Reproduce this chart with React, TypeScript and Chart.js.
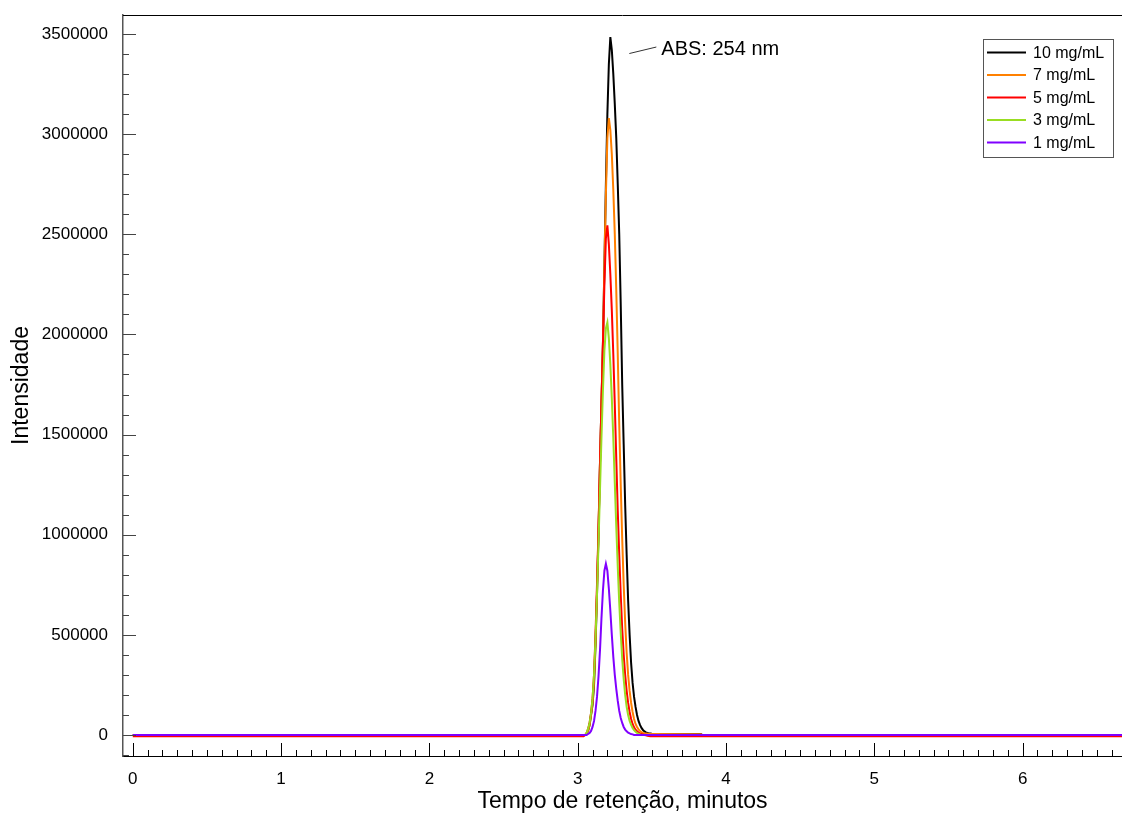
import React, { useEffect, useRef } from "react";
import { Chart, registerables } from "chart.js";

Chart.register(...registerables);

// Retention time (minutes)
const retentionTimes = [
  0, 3.04, 3.05, 3.06, 3.07, 3.08, 3.09, 3.1, 3.11, 3.12,
  3.13, 3.14, 3.15, 3.16, 3.17, 3.18, 3.19, 3.2, 3.21, 3.22,
  3.23, 3.24, 3.25, 3.26, 3.27, 3.28, 3.29, 3.3, 3.31, 3.32,
  3.33, 3.34, 3.35, 3.36, 3.37, 3.38, 3.39, 3.4, 3.41, 3.42,
  3.43, 3.44, 3.45, 3.46, 3.47, 3.48, 3.49, 3.5, 3.83, 3.84, 6.7,
];

// Intensities, in thousands
const intensity10 = [
  0, 0, 0, 5, 20, 50, 100, 150, 250, 450,
  700, 1000, 1350, 1650, 1950, 2350, 2750, 3100, 3350, 3485,
  3420, 3300, 3150, 2980, 2750, 2500, 2150, 1750, 1450, 1150,
  900, 670, 500, 360, 260, 190, 140, 100, 70, 50,
  35, 25, 18, 13, 10, 8, 7, 6, 5, 0, 0,
];
const intensity7 = [
  0, 0, 0, 5, 20, 50, 100, 160, 270, 470,
  720, 1020, 1350, 1650, 1950, 2350, 2700, 2980, 3080, 3020,
  2900, 2720, 2500, 2220, 1900, 1550, 1250, 980, 750, 560,
  410, 300, 220, 160, 115, 80, 55, 40, 28, 20,
  14, 10, 8, 7, 6, 5, 5, 5, 4, 0, 0,
];
const intensity5 = [
  -6, -6, 0, 10, 30, 60, 110, 180, 300, 500,
  750, 1020, 1350, 1650, 1950, 2250, 2480, 2545, 2450, 2300,
  2120, 1900, 1650, 1380, 1120, 900, 700, 530, 400, 300,
  220, 160, 115, 80, 55, 38, 26, 18, 12, 8,
  5, 2, 0, -2, -4, -5, -6, -6, -6, -6, -6,
];
const intensity3 = [
  0, 0, 0, 10, 30, 60, 110, 180, 300, 480,
  700, 950, 1220, 1480, 1720, 1920, 2030, 2060, 1980, 1850,
  1680, 1480, 1260, 1040, 840, 660, 510, 380, 280, 200,
  140, 100, 70, 50, 35, 24, 16, 10, 6, 3,
  0, 0, 0, 0, 0, 0, 0, 0, 0, 0, 0,
];
const intensity1 = [
  0, 0, 0, 0, 5, 10, 20, 40, 70, 120,
  190, 290, 420, 580, 720, 820, 855, 820, 730, 620,
  500, 390, 300, 230, 170, 120, 85, 60, 40, 27,
  18, 12, 8, 5, 3, 0, 0, 0, 0, 0,
  0, 0, 0, 0, 0, 0, 0, 0, 0, 0, 0,
];

const seriesLabels = ["10 mg/mL", "7 mg/mL", "5 mg/mL", "3 mg/mL", "1 mg/mL"];
const seriesValues = [intensity10, intensity7, intensity5, intensity3, intensity1];
const seriesColors = ["#000000", "#ff8000", "#ff0000", "#99dd22", "#8000ff"];

const xTickValues = [0, 1, 2, 3, 4, 5, 6];
const yTickValues = [0, 500000, 1000000, 1500000, 2000000, 2500000, 3000000, 3500000];

const annotationText = "ABS: 254 nm";
const xTitle = "Tempo de retenção, minutos";
const yTitle = "Intensidade";

const FONT = '"Liberation Sans", Arial, sans-serif';

const decorPlugin = {
  id: "decor",
  afterDraw(chart: any) {
    const { ctx, chartArea, scales } = chart;
    const xs = scales.x;
    const ys = scales.y;
    const { left, right, top, bottom } = chartArea;
    ctx.save();

    // top border
    ctx.strokeStyle = "#000";
    ctx.lineWidth = 1;
    ctx.beginPath();
    ctx.moveTo(left, top + 0.5);
    ctx.lineTo(right, top + 0.5);
    ctx.stroke();

    // y ticks (major every 500000, minor every 100000)
    ctx.strokeStyle = "#444";
    ctx.lineWidth = 1;
    for (let i = -5; i <= 40; i++) {
      const v = i * 100000;
      const y = Math.round(ys.getPixelForValue(v)) + 0.5;
      if (y < top || y > bottom) continue;
      const len = i % 5 === 0 ? 13 : 6;
      ctx.beginPath();
      ctx.moveTo(left, y);
      ctx.lineTo(left + len, y);
      ctx.stroke();
    }

    // x ticks (major every 1, minor every 0.1)
    ctx.strokeStyle = "#000";
    for (let i = -5; i <= 80; i++) {
      const v = i / 10;
      const x = Math.round(xs.getPixelForValue(v)) + 0.5;
      if (x < left || x > right) continue;
      const len = i % 10 === 0 ? 13 : 6;
      ctx.beginPath();
      ctx.moveTo(x, bottom);
      ctx.lineTo(x, bottom - len);
      ctx.stroke();
    }

    // legend box
    const boxW = 130;
    const boxH = 118;
    const boxL = right - 9 - boxW;
    const boxT = top + 24;
    ctx.fillStyle = "#fff";
    ctx.fillRect(boxL, boxT, boxW, boxH);
    ctx.strokeStyle = "#555";
    ctx.lineWidth = 1;
    ctx.strokeRect(boxL + 0.5, boxT + 0.5, boxW, boxH);
    ctx.font = `16px ${FONT}`;
    ctx.textBaseline = "middle";
    ctx.textAlign = "left";
    chart.data.datasets.forEach((ds: any, i: number) => {
      const y = boxT + 13.5 + i * 22.5;
      ctx.strokeStyle = ds.borderColor;
      ctx.lineWidth = 2;
      ctx.beginPath();
      ctx.moveTo(boxL + 4, y);
      ctx.lineTo(boxL + 43, y);
      ctx.stroke();
      ctx.fillStyle = "#000";
      ctx.fillText(ds.label, boxL + 50, y + 1);
    });

    // annotation near the main peak
    let maxI = 0;
    intensity10.forEach((v, i) => {
      if (v > intensity10[maxI]) maxI = i;
    });
    const px = xs.getPixelForValue(retentionTimes[maxI]);
    const py = ys.getPixelForValue(intensity10[maxI] * 1000);
    ctx.strokeStyle = "#333";
    ctx.lineWidth = 1;
    ctx.beginPath();
    ctx.moveTo(px + 19, py + 16.5);
    ctx.lineTo(px + 46, py + 10);
    ctx.stroke();
    ctx.fillStyle = "#000";
    ctx.font = `20px ${FONT}`;
    ctx.textBaseline = "alphabetic";
    ctx.fillText(annotationText, px + 51, py + 17.5);

    ctx.restore();
  },
};

export default function App() {
  const canvasRef = useRef<HTMLCanvasElement | null>(null);

  useEffect(() => {
    if (!canvasRef.current) return;
    const datasets = seriesValues.map((vals, si) => ({
      label: seriesLabels[si],
      data: retentionTimes.map((t, i) => ({ x: t, y: vals[i] * 1000 })),
      borderColor: seriesColors[si],
      backgroundColor: seriesColors[si],
      borderWidth: 2,
      pointRadius: 0,
      tension: 0,
      fill: false,
      order: seriesValues.length - 1 - si,
    }));

    const chart = new Chart(canvasRef.current, {
      type: "line",
      data: { datasets },
      plugins: [decorPlugin],
      options: {
        responsive: false,
        maintainAspectRatio: false,
        animation: false,
        devicePixelRatio: 1,
        parsing: false as any,
        normalized: true,
        layout: { padding: { top: 15, right: 0, bottom: 0, left: 0 } },
        plugins: {
          legend: { display: false },
          tooltip: { enabled: false },
        },
        scales: {
          x: {
            type: "linear",
            min: -0.066,
            max: 6.67,
            afterFit: (s: any) => {
              s.height = 60;
              s.paddingLeft = 0;
              s.paddingRight = 0;
            },
            afterBuildTicks: (s: any) => {
              s.ticks = xTickValues.map((v) => ({ value: v }));
            },
            grid: { display: false, drawTicks: false },
            border: { display: true, color: "#000", width: 1 },
            ticks: {
              padding: 13,
              color: "#000",
              maxRotation: 0,
              autoSkip: false,
              font: { family: FONT, size: 17 },
              callback: (v: any) => String(v),
            },
            title: {
              display: true,
              text: xTitle,
              color: "#000",
              font: { family: FONT, size: 23 },
              padding: { top: 0, bottom: 1 },
            },
          },
          y: {
            type: "linear",
            min: -105000,
            max: 3595000,
            afterFit: (s: any) => {
              s.width = 123;
              s.paddingTop = 0;
              s.paddingBottom = 0;
            },
            afterBuildTicks: (s: any) => {
              s.ticks = yTickValues.map((v) => ({ value: v }));
            },
            grid: { display: false, drawTicks: false },
            border: { display: true, color: "#555", width: 1.5 },
            ticks: {
              padding: 15,
              color: "#000",
              autoSkip: false,
              font: { family: FONT, size: 17 },
              callback: (v: any) => String(v),
            },
            title: {
              display: true,
              text: yTitle,
              color: "#000",
              font: { family: FONT, size: 23 },
              padding: { top: 8, bottom: 0 },
            },
          },
        },
      } as any,
    });
    return () => chart.destroy();
  }, []);

  return (
    <div
      style={{
        position: "fixed",
        left: 0,
        top: 0,
        width: 1122,
        height: 816,
        background: "#fff",
      }}
    >
      <canvas ref={canvasRef} width={1122} height={816} style={{ display: "block" }} />
    </div>
  );
}
